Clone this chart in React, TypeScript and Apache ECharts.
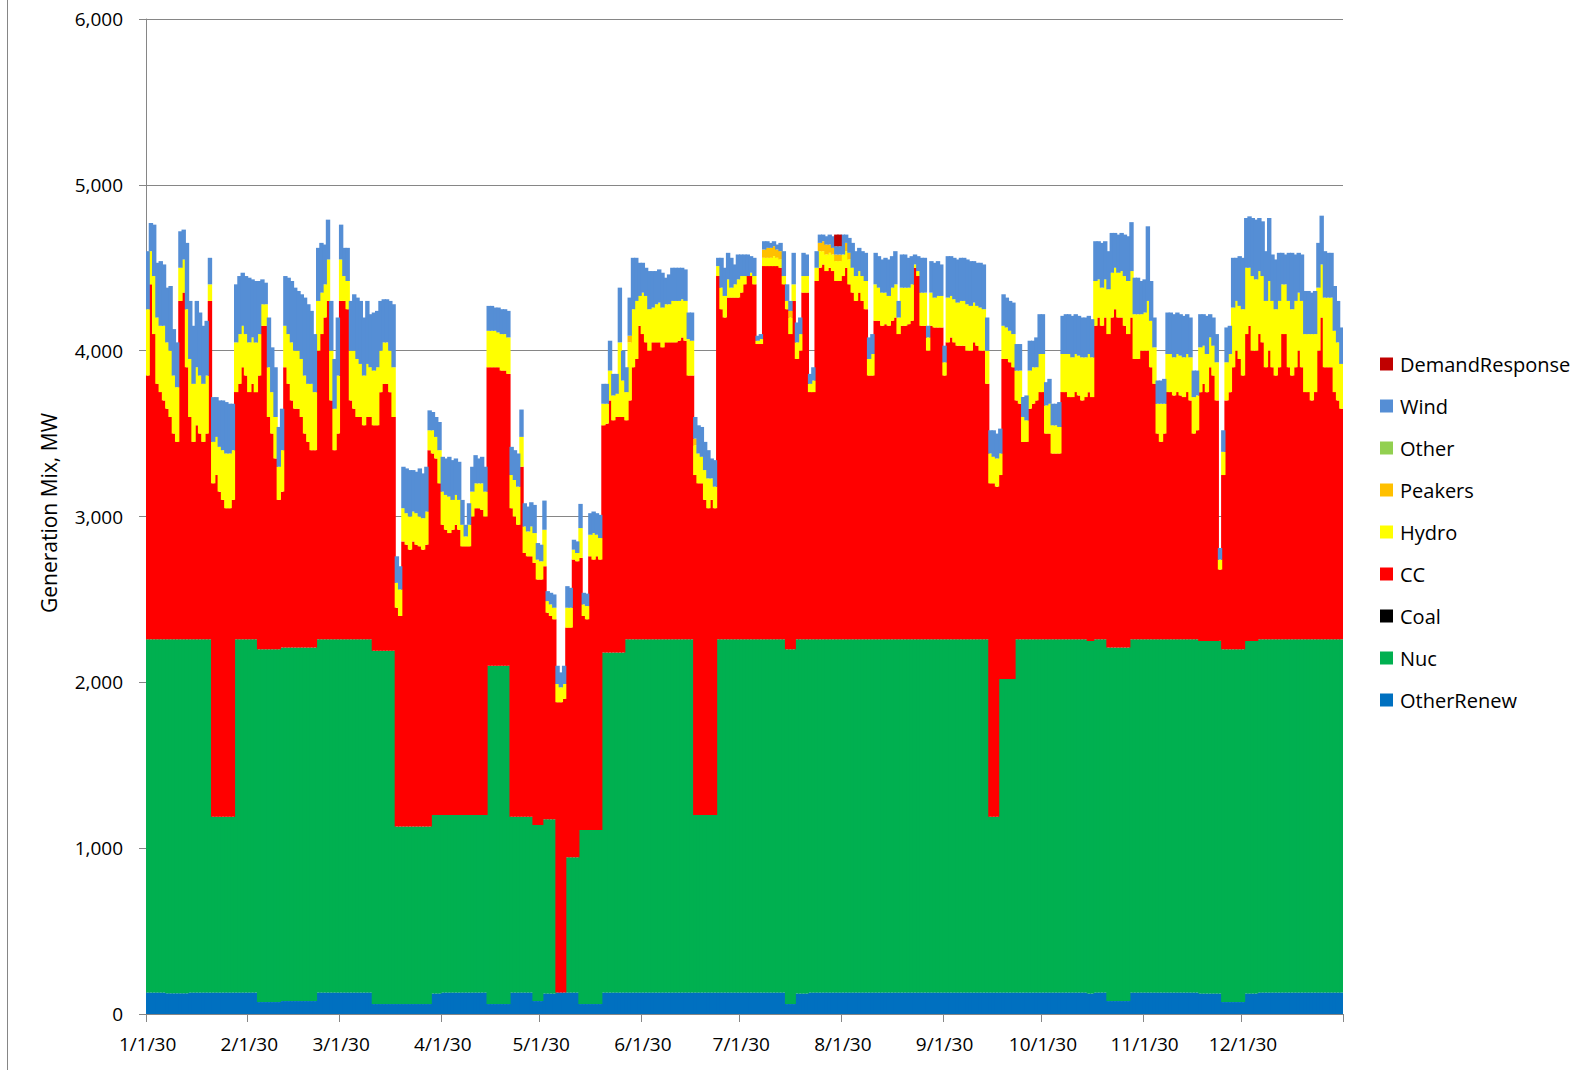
import React, { useEffect, useRef } from "react";
import * as echarts from "echarts";

const W = 1591;
const H = 1070;
const FONT = "'Open Sans', 'Noto Sans', sans-serif";

// ---- axis / tick data ----
const monthStartDays = [0, 31, 59, 90, 120, 151, 181, 212, 243, 273, 304, 334];
const monthLabels = ["1/1/30", "2/1/30", "3/1/30", "4/1/30", "5/1/30", "6/1/30", "7/1/30", "8/1/30", "9/1/30", "10/1/30", "11/1/30", "12/1/30"];
const yTicks = [0, 1000, 2000, 3000, 4000, 5000, 6000];

// ---- step levels: [startDay, level MW] ----
const otherRenewRuns = [
  [0, 130], [6, 125], [13, 130], [34, 72], [41, 78], [52, 130], [69, 60], [87, 124], [90, 130],
  [104, 60], [111, 130], [118, 78], [121, 124], [125, 130], [132, 60], [139, 130], [195, 60],
  [198, 124], [202, 130], [287, 124], [289, 130], [293, 78], [300, 130], [321, 124], [328, 72],
  [335, 124], [339, 130],
];
// top of the green (Nuc) band
const nucTopRuns = [
  [0, 2260], [20, 1190], [27, 2260], [34, 2200], [41, 2210], [52, 2260], [69, 2190], [76, 1130],
  [87, 1200], [104, 2100], [111, 1190], [118, 1140], [121, 1175], [125, 130], [128, 945], [132, 1110],
  [139, 2180], [146, 2260], [167, 1200], [174, 2260], [195, 2200], [198, 2260], [257, 1190], [260, 2020],
  [265, 2260], [287, 2250], [289, 2260], [293, 2210], [300, 2260], [321, 2250], [328, 2200], [335, 2250],
  [339, 2260],
];

// ---- daily levels (MW) ----
// top of the red CC band
const ccTop = [
  // Jan
  3850,4400,4100,3800,3750,3700,3650,3600,3500,3450,4300,4350,3900,3600,3450,3550,3500,3450,3500,4300,3200,3250,3150,3100,3050,3050,3100,3750,3800,3900,3850,
  // Feb
  3750,3800,3750,3850,4150,4150,3600,3500,3350,3100,3150,3900,3800,3700,3650,3650,3600,3500,3450,3400,3400,4000,4100,4200,4300,3700,3400,3500,
  // Mar
  4300,4300,4250,3700,3650,3600,3600,3550,3600,3600,3550,3550,3750,3800,3800,3750,3600,2450,2400,2850,2830,2800,2850,2830,2820,2800,2830,3400,3380,3350,3200,
  // Apr
  2950,2920,2900,2920,2950,2920,2820,2820,2820,3000,3050,3050,3040,3000,3900,3900,3900,3900,3880,3880,3860,3050,3000,2950,3300,2780,2760,2760,2720,2620,
  // May
  2620,2700,2420,2400,2380,1880,1880,1900,2330,2330,2740,2730,2750,2400,2380,2760,2740,2760,2740,3550,3560,3700,3580,3600,3600,3600,3580,3700,3900,3950,4150,
  // Jun
  4100,4050,4000,4050,4050,4050,4020,4050,4050,4050,4050,4060,4080,4060,3850,3850,3250,3200,3200,3100,3050,3100,3050,4450,4250,4200,4320,4320,4320,4320,
  // Jul
  4350,4400,4450,4450,4400,4040,4040,4510,4510,4510,4510,4510,4500,4400,4250,4100,4300,3950,4000,4350,4350,3750,3750,4420,4500,4520,4480,4500,4480,4420,4420,
  // Aug
  4450,4500,4400,4350,4300,4350,4300,4250,3850,3850,4180,4180,4150,4160,4150,4180,4200,4100,4150,4150,4160,4180,4500,4450,4150,4150,4000,4150,4140,4140,4140,
  // Sep
  3850,4050,4080,4050,4030,4030,4030,4000,4000,4050,4030,4000,4000,3800,3200,3200,3180,3250,3950,3950,3930,3900,3700,3680,3450,3450,3650,3680,3700,3750,
  // Oct
  3750,3500,3500,3380,3380,3380,3750,3750,3720,3720,3750,3730,3700,3720,3750,3720,4150,4200,4150,4200,4100,4200,4250,4200,4200,4150,4100,4200,3950,3950,4000,
  // Nov
  4000,4000,3900,3800,3500,3450,3500,3750,3750,3730,3750,3730,3720,3750,3700,3500,3520,3750,3800,3750,3900,3850,3700,2680,3250,3700,3750,3900,4000,3950,
  // Dec
  3850,4100,4150,4000,4000,4100,4050,3900,4000,3900,3850,3900,4100,4100,3900,3850,3900,4000,3900,3750,3750,3700,3750,4000,4200,3900,3900,3900,3750,3700,3650,
];
// top of the yellow Hydro band
const hydroTop = [
  4250,4600,4450,4200,4150,4150,4050,4000,3850,3780,4500,4550,4250,3950,3800,3900,3850,3800,3850,4400,3450,3480,3420,3400,3380,3380,3400,4050,4100,4150,4100,
  4050,4080,4050,4100,4280,4280,3900,3750,3600,3300,3400,4150,4100,4050,4000,4000,3950,3850,3800,3800,3750,4300,4350,4400,4550,4000,3650,3850,
  4550,4450,4420,4000,4000,3950,3920,3850,3920,3900,3880,3900,4000,4050,4050,4000,3900,2600,2560,3050,3020,3000,3030,3020,3000,2990,3030,3520,3520,3480,3400,
  3150,3130,3120,3100,3130,3100,2950,2880,2950,3150,3200,3200,3200,3150,4120,4120,4120,4110,4100,4100,4080,3250,3220,3180,3480,2940,2910,2940,2900,2740,
  2730,2920,2490,2470,2450,1990,1970,1990,2450,2450,2800,2780,2930,2470,2460,2890,2900,2890,2870,3680,3680,3880,3730,3740,4050,3820,3750,4050,4250,4300,4330,
  4350,4330,4250,4260,4280,4290,4260,4280,4280,4300,4300,4300,4310,4300,4070,4060,3430,3380,3360,3280,3230,3230,3180,4510,4380,4330,4430,4380,4400,4430,
  4450,4450,4450,4470,4450,4060,4070,4560,4560,4560,4570,4560,4550,4450,4300,4200,4400,4050,4100,4450,4450,3800,3820,4500,4600,4600,4580,4590,4580,4540,4540,
  4580,4600,4550,4500,4450,4480,4450,4420,3950,3980,4400,4380,4350,4350,4330,4380,4400,4200,4380,4380,4380,4400,4520,4480,4350,4350,4080,4350,4320,4330,4330,
  3930,4320,4330,4310,4290,4300,4300,4280,4270,4290,4270,4260,4250,4000,3380,3360,3350,3380,4150,4140,4120,4100,3880,3880,3600,3580,3880,3900,3900,3980,
  3980,3670,3680,3550,3550,3540,3980,3980,3980,3960,3980,3970,3960,3960,3980,3960,4420,4430,4380,4430,4370,4470,4500,4470,4480,4450,4420,4480,4220,4220,4220,
  4230,4300,4180,4020,3680,3680,3680,3980,3980,3960,3980,3970,3960,3980,3960,3720,3730,4020,4030,3980,4080,4030,3930,2740,3390,3930,3980,4260,4300,4270,
  4250,4500,4500,4450,4430,4480,4450,4300,4420,4300,4250,4300,4400,4400,4300,4250,4300,4350,4300,4100,4100,4100,4100,4380,4520,4320,4320,4320,4120,4050,3920,
];
// top of the whole stack
const totalTop = [
  4600,4770,4760,4530,4540,4520,4380,4390,4130,4050,4720,4730,4650,4300,4150,4300,4230,4150,4180,4560,3720,3720,3700,3700,3690,3680,3680,4400,4450,4470,4450,
  4440,4430,4420,4420,4430,4410,4200,4020,3900,3540,3650,4450,4440,4420,4380,4360,4340,4320,4280,4240,4100,4620,4650,4640,4790,4300,3950,4200,
  4760,4620,4620,4300,4340,4320,4300,4200,4300,4220,4230,4240,4300,4310,4310,4300,4280,2760,2700,3300,3290,3280,3280,3270,3290,3260,3300,3640,3630,3600,3570,
  3360,3350,3360,3340,3350,3330,3100,2950,3080,3300,3370,3350,3360,3300,4270,4270,4260,4260,4250,4250,4240,3420,3400,3380,3645,3080,3060,3086,3070,2840,
  2830,3096,2550,2540,2530,2100,2060,2100,2580,2570,2860,2850,3076,2540,2535,3020,3030,3020,3010,3800,3800,4060,3860,3860,4380,4000,3900,4320,4560,4560,4530,
  4530,4500,4480,4480,4480,4490,4470,4440,4460,4500,4500,4500,4500,4490,4230,4230,3600,3550,3540,3450,3400,3350,3340,4560,4560,4500,4590,4560,4520,4580,
  4580,4580,4580,4570,4560,4090,4100,4660,4660,4650,4660,4640,4650,4600,4400,4300,4590,4170,4200,4590,4580,3860,3900,4600,4700,4700,4690,4700,4690,4700,4700,
  4700,4700,4680,4650,4600,4620,4600,4590,4080,4100,4590,4570,4550,4560,4550,4570,4600,4300,4580,4580,4560,4570,4580,4570,4560,4560,4150,4540,4530,4540,4520,
  4030,4570,4570,4560,4550,4560,4560,4550,4540,4540,4530,4530,4520,4200,3520,3520,3500,3530,4340,4320,4300,4290,4040,4040,3720,3730,4060,4060,4080,4220,
  4220,3810,3830,3680,3680,3690,4210,4220,4220,4210,4220,4210,4200,4200,4210,4190,4660,4660,4650,4660,4600,4710,4710,4700,4710,4700,4690,4775,4440,4440,4420,
  4430,4750,4420,4200,3820,3820,3830,4230,4230,4220,4230,4220,4210,4220,4200,3880,3880,4220,4220,4210,4220,4200,4100,2810,3520,4140,4150,4560,4560,4570,
  4560,4800,4810,4800,4790,4800,4780,4600,4800,4580,4550,4590,4590,4580,4590,4590,4580,4590,4580,4360,4360,4350,4360,4650,4814,4600,4590,4590,4390,4300,4140,
];
// sparse small series: [day, MW]
const peakerDays = [
  [147, 40], [167, 40], [188, 50], [189, 60], [190, 60], [191, 60], [192, 50], [193, 50], [196, 40],
  [205, 50], [206, 60], [207, 60], [208, 50], [209, 40], [210, 40], [211, 40], [213, 50], [214, 40],
];
const demandResponseDays = [[210, 70], [211, 70]];

const NDAYS = 365;

function expandRuns(runs: number[][]): number[] {
  const out: number[] = [];
  for (let d = 0; d < NDAYS; d++) {
    let v = runs[0][1];
    for (const [s, lv] of runs) if (d >= s) v = lv;
    out.push(v);
  }
  return out;
}
function sparse(list: number[][]): number[] {
  const out = new Array(NDAYS).fill(0);
  for (const [d, v] of list) out[d] = v;
  return out;
}

const categories: string[] = [];
for (let d = 0; d < NDAYS; d++) {
  const dt = new Date(Date.UTC(2030, 0, 1 + d));
  categories.push(`${dt.getUTCMonth() + 1}/${dt.getUTCDate()}/30`);
}
const monthStartSet = new Set(monthStartDays);

const COLORS: Record<string, string> = {
  OtherRenew: "#0070C0",
  Nuc: "#00B050",
  Coal: "#000000",
  CC: "#FF0000",
  Hydro: "#FFFF00",
  Peakers: "#FFC000",
  Other: "#92D050",
  Wind: "#558ED5",
  DemandResponse: "#C00000",
};

function buildSeries() {
  const renew = expandRuns(otherRenewRuns);
  const nucTop = expandRuns(nucTopRuns);
  const pk = sparse(peakerDays);
  const dr = sparse(demandResponseDays);
  const nz = (v: number) => (v > 0 ? v : null);
  const vals: Record<string, (number | null)[]> = {
    OtherRenew: [], Nuc: [], Coal: [], CC: [], Hydro: [], Peakers: [], Other: [], Wind: [], DemandResponse: [],
  };
  for (let d = 0; d < NDAYS; d++) {
    const r = ccTop[d] ?? ccTop[ccTop.length - 1];
    const h = hydroTop[d] ?? hydroTop[hydroTop.length - 1];
    const t = totalTop[d] ?? totalTop[totalTop.length - 1];
    vals.OtherRenew.push(nz(renew[d]));
    vals.Nuc.push(nz(nucTop[d] - renew[d]));
    vals.Coal.push(null);
    vals.CC.push(nz(r - nucTop[d]));
    vals.Hydro.push(nz(h - r));
    vals.Peakers.push(nz(pk[d]));
    vals.Other.push(null);
    vals.Wind.push(nz(t - h - pk[d] - dr[d]));
    vals.DemandResponse.push(nz(dr[d]));
  }
  const order = ["OtherRenew", "Nuc", "Coal", "CC", "Hydro", "Peakers", "Other", "Wind", "DemandResponse"];
  return order.map((name) => ({
    name,
    type: "bar",
    stack: "gen",
    data: vals[name],
    barWidth: 4.4,
    silent: true,
    itemStyle: { color: COLORS[name], borderWidth: 0 },
    emphasis: { disabled: true },
  }));
}

export default function App() {
  const ref = useRef<HTMLDivElement>(null);
  useEffect(() => {
    if (!ref.current) return;
    const chart = echarts.init(ref.current, null, { renderer: "svg" });
    const gray = "#868686";
    const option: any = {
      animation: false,
      backgroundColor: "#ffffff",
      textStyle: { fontFamily: FONT },
      grid: { left: 146, top: 19, width: 1197, height: 995, containLabel: false },
      legend: {
        orient: "vertical",
        left: 1375,
        top: 348,
        itemWidth: 13,
        itemHeight: 13,
        itemGap: 20,
        icon: "rect",
        selectedMode: false,
        textStyle: { fontSize: 20, lineHeight: 22, color: "#000", fontFamily: FONT, padding: [0, 0, 0, 2] },
        data: ["DemandResponse", "Wind", "Other", "Peakers", "Hydro", "CC", "Coal", "Nuc", "OtherRenew"],
      },
      xAxis: {
        type: "category",
        data: categories,
        boundaryGap: true,
        axisLine: { show: true, lineStyle: { color: gray, width: 1 } },
        axisTick: {
          show: true,
          interval: (i: number) => monthStartSet.has(i),
          length: 8,
          lineStyle: { color: gray },
        },
        axisLabel: {
          interval: (i: number) => monthStartSet.has(i),
          formatter: (v: string) => {
            const k = monthLabels.indexOf(v);
            return k >= 0 ? monthLabels[k] : v;
          },
          margin: 20,
          fontSize: 19,
          color: "#000",
          fontFamily: FONT,
        },
        splitLine: { show: false },
      },
      yAxis: {
        type: "value",
        min: yTicks[0],
        max: yTicks[yTicks.length - 1],
        interval: 1000,
        axisLine: { show: true, lineStyle: { color: gray, width: 1 } },
        axisTick: { show: true, length: 7, lineStyle: { color: gray } },
        axisLabel: {
          formatter: (v: number) => v.toLocaleString("en-US"),
          margin: 23,
          fontSize: 19,
          color: "#000",
          fontFamily: FONT,
        },
        splitLine: { show: true, lineStyle: { color: gray, width: 1 } },
      },
      graphic: [
        { type: "line", shape: { x1: 7.5, y1: 0, x2: 7.5, y2: H }, style: { stroke: gray, lineWidth: 1 }, silent: true },
        {
          type: "text",
          x: 49,
          y: 513,
          rotation: Math.PI / 2,
          silent: true,
          style: {
            text: "Generation Mix, MW",
            fontSize: 21,
            fontFamily: FONT,
            fill: "#000",
            align: "center",
            verticalAlign: "middle",
            textAlign: "center",
            textVerticalAlign: "middle",
          },
        },
      ],
      series: buildSeries(),
    };
    chart.setOption(option);
    return () => chart.dispose();
  }, []);
  return (
    <div
      ref={ref}
      style={{ position: "fixed", left: 0, top: 0, width: W, height: H, background: "#fff" }}
    />
  );
}
